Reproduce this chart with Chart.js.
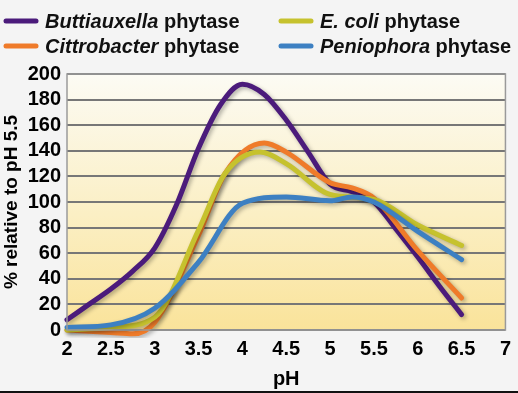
<!DOCTYPE html>
<html>
<head>
<meta charset="utf-8">
<script src="https://cdn.jsdelivr.net/npm/chart.js@4"></script>
<style>
  body { margin: 0; background: #f4f4f4; }
  canvas { display: block; }
</style>
</head>
<body>
<canvas id="phytaseChart" width="518" height="393"></canvas>
<script>
// values (% activity relative to pH 5.5)
const buttiauxellaPH = [2, 2.25, 2.5, 2.75, 3, 3.25, 3.5, 3.75, 4, 4.25, 4.5, 4.75, 5, 5.25, 5.5, 5.75, 6, 6.25, 6.5];
const buttiauxellaVal = [8, 20, 32, 46, 64, 98, 142, 176, 192, 184, 164, 139, 114, 108, 100, 79, 57, 34, 12];

const cittrobacterPH = [2, 2.5, 2.75, 3, 3.5, 3.8, 4.25, 4.5, 5, 5.25, 5.5, 6, 6.5];
const cittrobacterVal = [0, -2, -3, 6, 74, 122, 146, 139, 115, 111, 103, 62, 25];

const ecoliPH = [2, 2.5, 3, 3.5, 3.8, 4.2, 4.5, 5, 5.5, 6, 6.5];
const ecoliVal = [0, 2, 10, 78, 122, 139, 130, 106, 102, 82, 66];

const peniophoraPH = [2, 2.5, 3, 3.5, 4, 4.5, 5, 5.25, 5.5, 6, 6.5];
const peniophoraVal = [2, 4, 17, 53, 99, 104, 101, 104, 100, 77, 55];

const xTicks = [2, 2.5, 3, 3.5, 4, 4.5, 5, 5.5, 6, 6.5, 7];

const colors = {
  buttiauxella: '#4b1b7b',
  cittrobacter: '#ef7b2a',
  ecoli: '#c6c22e',
  peniophora: '#3d80c2'
};

const FONT = '"Liberation Sans", Arial, sans-serif';

function toPoints(xs, ys) {
  return xs.map((x, i) => ({ x: x, y: ys[i] }));
}

function series(label, xs, ys, color, order) {
  return {
    label: label,
    data: toPoints(xs, ys),
    borderColor: color,
    backgroundColor: color,
    borderWidth: 5,
    pointRadius: 0,
    cubicInterpolationMode: 'monotone',
    borderCapStyle: 'round',
    fill: false,
    clip: 8,
    order: order
  };
}

// plot background, frame, line shadows and the two-column legend
const decorations = {
  id: 'decorations',
  beforeDraw(chart) {
    const { ctx, chartArea: a } = chart;
    const grad = ctx.createLinearGradient(0, a.top, 0, a.bottom);
    grad.addColorStop(0, '#fcfbf4');
    grad.addColorStop(0.55, '#fbefc4');
    grad.addColorStop(1, '#fae39a');
    ctx.save();
    ctx.fillStyle = grad;
    ctx.fillRect(a.left, a.top, a.right - a.left, a.bottom - a.top);
    ctx.restore();
  },
  beforeDatasetsDraw(chart) {
    const ctx = chart.ctx;
    ctx.save();
    ctx.shadowColor = 'rgba(0,0,0,0.3)';
    ctx.shadowBlur = 4;
    ctx.shadowOffsetX = 2;
    ctx.shadowOffsetY = 2;
  },
  afterDatasetsDraw(chart) {
    chart.ctx.restore();
  },
  afterDraw(chart) {
    const { ctx, chartArea: a } = chart;
    ctx.save();
    ctx.strokeStyle = '#9a9a9a';
    ctx.lineWidth = 1.5;
    ctx.strokeRect(a.left, a.top, a.right - a.left, a.bottom - a.top);

    const entries = [
      { it: 'Buttiauxella', rest: ' phytase', color: colors.buttiauxella, x: 4, y: 21 },
      { it: 'E. coli', rest: ' phytase', color: colors.ecoli, x: 279, y: 21 },
      { it: 'Cittrobacter', rest: ' phytase', color: colors.cittrobacter, x: 4, y: 46 },
      { it: 'Peniophora', rest: ' phytase', color: colors.peniophora, x: 279, y: 46 }
    ];
    ctx.lineCap = 'round';
    ctx.textBaseline = 'middle';
    ctx.fillStyle = '#111';
    entries.forEach(e => {
      ctx.strokeStyle = e.color;
      ctx.lineWidth = 5;
      ctx.beginPath();
      ctx.moveTo(e.x + 2, e.y);
      ctx.lineTo(e.x + 32, e.y);
      ctx.stroke();
      ctx.font = 'italic bold 20px ' + FONT;
      ctx.fillText(e.it, e.x + 41, e.y + 1);
      const w = ctx.measureText(e.it).width;
      ctx.font = 'bold 20px ' + FONT;
      ctx.fillText(e.rest, e.x + 41 + w, e.y + 1);
    });

    ctx.fillStyle = '#111';
    ctx.fillRect(0, 391, chart.width, 2);
    ctx.restore();
  }
};

const ctx = document.getElementById('phytaseChart').getContext('2d');

new Chart(ctx, {
  type: 'line',
  data: {
    datasets: [
      series('Buttiauxella phytase', buttiauxellaPH, buttiauxellaVal, colors.buttiauxella, 4),
      series('E. coli phytase', ecoliPH, ecoliVal, colors.ecoli, 2),
      series('Cittrobacter phytase', cittrobacterPH, cittrobacterVal, colors.cittrobacter, 3),
      series('Peniophora phytase', peniophoraPH, peniophoraVal, colors.peniophora, 1)
    ]
  },
  options: {
    responsive: false,
    animation: false,
    layout: { padding: { top: 74, right: 8, left: 0, bottom: 0 } },
    scales: {
      x: {
        type: 'linear',
        min: 2,
        max: 7,
        afterFit(scale) { scale.height = 63; },
        afterBuildTicks(scale) { scale.ticks = xTicks.map(v => ({ value: v })); },
        grid: { display: false, drawTicks: false },
        border: { display: false },
        ticks: {
          color: '#000',
          padding: 7,
          maxRotation: 0,
          autoSkip: false,
          callback: v => String(v),
          font: { family: FONT, size: 20, weight: 'bold' }
        },
        title: {
          display: true,
          text: 'pH',
          color: '#000',
          padding: { top: 0, bottom: 2 },
          font: { family: FONT, size: 20, weight: 'bold' }
        }
      },
      y: {
        min: 0,
        max: 200,
        afterFit(scale) { scale.width = 67; },
        grid: { color: '#777', lineWidth: 2, drawTicks: false },
        border: { display: false },
        ticks: {
          stepSize: 20,
          autoSkip: false,
          color: '#000',
          padding: 6,
          font: { family: FONT, size: 20, weight: 'bold' }
        },
        title: {
          display: true,
          text: '% relative to pH 5.5',
          color: '#000',
          padding: { top: 0, bottom: 0 },
          font: { family: FONT, size: 19, weight: 'bold' }
        }
      }
    },
    plugins: {
      legend: { display: false },
      tooltip: { enabled: false }
    }
  },
  plugins: [decorations]
});
</script>
</body>
</html>
